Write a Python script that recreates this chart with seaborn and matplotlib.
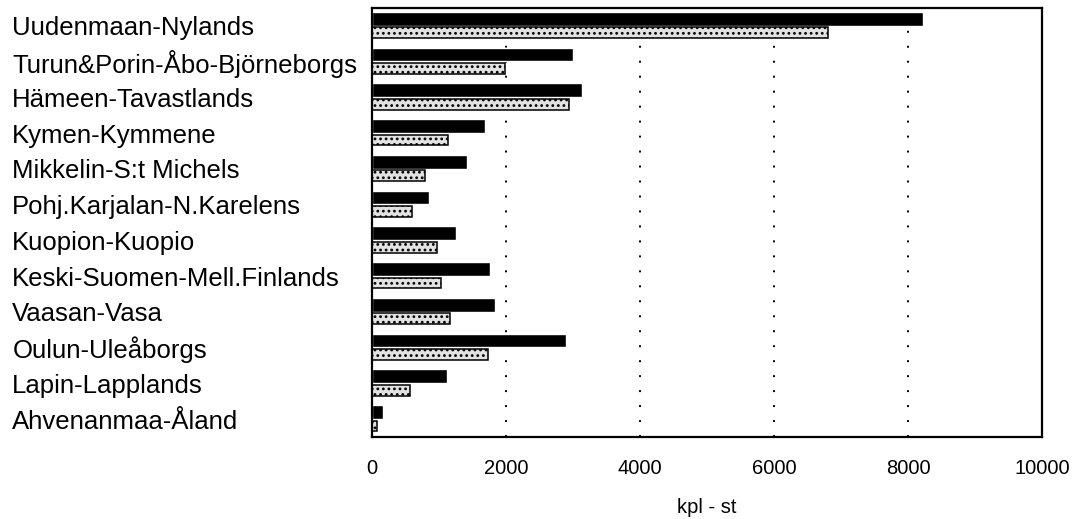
import matplotlib
matplotlib.use("Agg")
import matplotlib.pyplot as plt
import seaborn as sns
import pandas as pd

regions = [
    "Uudenmaan-Nylands",
    "Turun&Porin-Åbo-Björneborgs",
    "Hämeen-Tavastlands",
    "Kymen-Kymmene",
    "Mikkelin-S:t Michels",
    "Pohj.Karjalan-N.Karelens",
    "Kuopion-Kuopio",
    "Keski-Suomen-Mell.Finlands",
    "Vaasan-Vasa",
    "Oulun-Uleåborgs",
    "Lapin-Lapplands",
    "Ahvenanmaa-Åland",
]
series_a = [8220, 3000, 3130, 1690, 1420, 850, 1260, 1760, 1840, 2900, 1120, 160]
series_b = [6800, 1980, 2940, 1130, 790, 590, 970, 1030, 1160, 1730, 570, 75]
x_ticks = [0, 2000, 4000, 6000, 8000, 10000]

df = pd.DataFrame({"region": regions * 2,
                   "value": series_a + series_b,
                   "series": ["a"] * len(regions) + ["b"] * len(regions)})

sns.set_style("white")
plt.rcParams["font.family"] = ["Liberation Sans", "DejaVu Sans"]
plt.rcParams["text.color"] = "black"
plt.rcParams["xtick.color"] = "black"
plt.rcParams["ytick.color"] = "black"
plt.rcParams["axes.labelcolor"] = "black"
plt.rcParams["hatch.linewidth"] = 1.2

fig = plt.figure(figsize=(10.73, 5.19), dpi=100)
ax = fig.add_axes([372 / 1073, 1 - 437 / 519, 670 / 1073, 429 / 519])

sns.barplot(data=df, x="value", y="region", hue="series", order=regions,
            palette={"a": "black", "b": "#e2e2e2"}, width=0.8, gap=0.05,
            legend=False, ax=ax)

# grey bars are thinner and stippled in the original
for p in ax.containers[1]:
    p.set_y(p.get_y() + 0.03)
    p.set_height(p.get_height() * 0.8)
    p.set_edgecolor("black")
    p.set_linewidth(1.1)
    p.set_hatch("...")

for xv in x_ticks[1:-1]:
    ax.axvline(xv, color="black", linestyle=(0, (1, 6.7)), linewidth=1.4, zorder=0)

ax.set_xlim(0, 10000)
ax.set_xticks(x_ticks)
ax.set_xticklabels([str(v) for v in x_ticks], fontsize=14.5)
ax.set_xlabel("kpl - st", fontsize=14.5, labelpad=14)
ax.set_ylabel("")
ax.tick_params(axis="x", length=0, pad=16)
ax.tick_params(axis="y", length=0, pad=259)
for lbl in ax.get_yticklabels():
    lbl.set_horizontalalignment("left")
    lbl.set_fontsize(18.5)

for s in ax.spines.values():
    s.set_visible(True)
    s.set_color("black")
    s.set_linewidth(1.6)

fig.savefig("out.png", dpi=100)
